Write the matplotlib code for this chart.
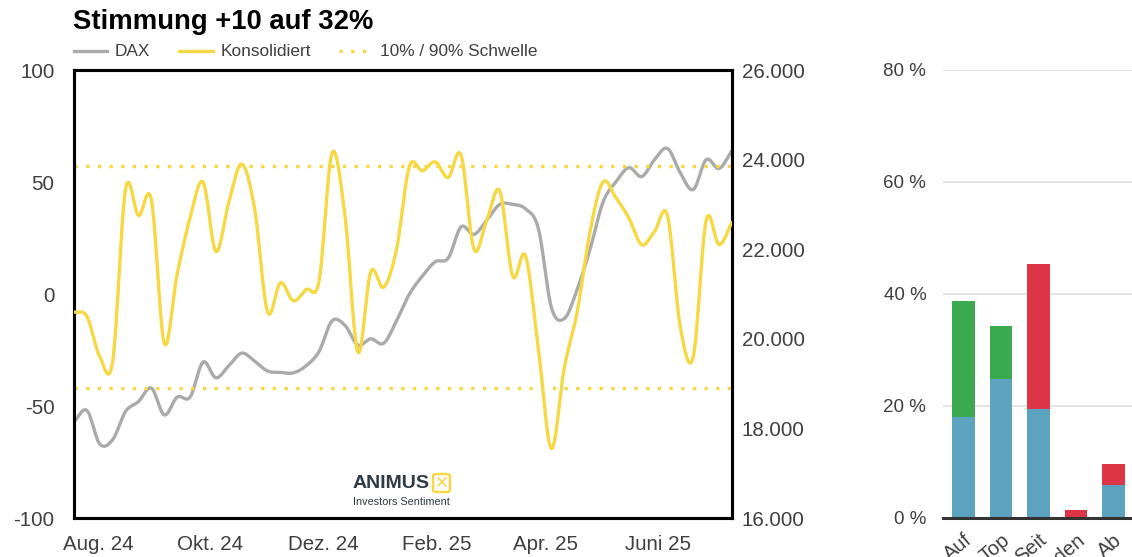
import numpy as np
import pandas as pd
import matplotlib
matplotlib.use("Agg")
import matplotlib.pyplot as plt
import matplotlib.dates as mdates
from matplotlib.patches import FancyBboxPatch

plt.rcParams['font.family'] = ['Liberation Sans', 'DejaVu Sans']
plt.rcParams['axes.unicode_minus'] = False

# weekly values
weeks = pd.date_range("2024-07-19", periods=52, freq="7D")

konsolidiert = [-8, -10, -28, -30, 47, 35, 42, -22, 9, 34,
                50, 19, 41, 58, 38, -8, 5, -3, 2, 6,
                63, 35, -26, 10, 3, 20, 57, 55, 59, 52,
                62, 20, 33, 46, 8, 17, -25, -69, -33, -8,
                28, 50, 43, 34, 22, 28, 35, -15, -28, 33,
                22, 32]

dax = [18150, 18400, 17650, 17750, 18380, 18600, 18900, 18300, 18700, 18700,
       19480, 19130, 19400, 19680, 19500, 19280, 19250, 19240, 19400, 19720,
       20400, 20300, 19860, 20000, 19900, 20400, 21000, 21400, 21720, 21800,
       22500, 22330, 22650, 23000, 23000, 22900, 22450, 20700, 20450, 21100,
       22000, 23050, 23500, 23820, 23620, 24000, 24250, 23700, 23330, 24000,
       23800, 24200]

upper_thr = 57
lower_thr = -42

month_ticks = ["2024-08-01", "2024-10-01", "2024-12-01", "2025-02-01", "2025-04-01", "2025-06-01"]
month_labels = ["Aug. 24", "Okt. 24", "Dez. 24", "Feb. 25", "Apr. 25", "Juni 25"]

bar_labels = ["Auf", "Top", "Seit", "Boden", "Ab"]
bar_blue = [18.0, 24.8, 19.5, 0.0, 5.9]
bar_green = [20.8, 9.5, 0.0, 0.0, 0.0]
bar_red = [0.0, 0.0, 25.9, 1.4, 3.7]

YELLOW = "#F5D844"
GRAY = "#AAAAAA"
BLUE = "#5BA3BF"
GREEN = "#3BAA4F"
RED = "#DC3545"
TXT = "#3F3F3F"
DOTS = (0, (1, 2.5))


def smooth(x, y, n=12):
    """catmull-rom through the weekly points, only for drawing"""
    x = np.asarray(x, float)
    y = np.asarray(y, float)
    px = np.concatenate([[2 * x[0] - x[1]], x, [2 * x[-1] - x[-2]]])
    py = np.concatenate([[2 * y[0] - y[1]], y, [2 * y[-1] - y[-2]]])
    xs, ys = [], []
    t = np.linspace(0, 1, n, endpoint=False)
    for i in range(1, len(px) - 2):
        for arr, out in ((px, xs), (py, ys)):
            p0, p1, p2, p3 = arr[i - 1], arr[i], arr[i + 1], arr[i + 2]
            out.append(0.5 * ((2 * p1) + (-p0 + p2) * t
                              + (2 * p0 - 5 * p1 + 4 * p2 - p3) * t ** 2
                              + (-p0 + 3 * p1 - 3 * p2 + p3) * t ** 3))
    xs = np.concatenate(xs + [[x[-1]]])
    ys = np.concatenate(ys + [[y[-1]]])
    return xs, ys


fig = plt.figure(figsize=(11.32, 5.57), dpi=100)

# main chart
ax = fig.add_axes([74 / 1132, 39 / 557, 658 / 1132, 448 / 557])
ax2 = ax.twinx()

xnum = mdates.date2num(weeks)
sx, sy = smooth(xnum, konsolidiert)
ax.plot(sx, sy, color=YELLOW, lw=2.4, zorder=3, solid_capstyle="round")
ax.axhline(upper_thr, color=YELLOW, lw=2.4, ls=DOTS, dash_capstyle="butt")
ax.axhline(lower_thr, color=YELLOW, lw=2.4, ls=DOTS, dash_capstyle="butt")

dx, dy = smooth(xnum, dax)
ax2.plot(dx, dy, color=GRAY, lw=2.4, zorder=2, solid_capstyle="round")

# yellow line above gray
ax.set_zorder(ax2.get_zorder() + 1)
ax.patch.set_visible(False)

ax.set_xlim(xnum[0], xnum[-1])
ax.set_ylim(-100, 100)
ax2.set_ylim(16000, 26000)
ax.set_yticks([-100, -50, 0, 50, 100])
ax2.set_yticks(np.arange(16000, 26001, 2000))
ax2.set_yticklabels([f"{v:,}".replace(",", ".") for v in range(16000, 26001, 2000)])
ax.set_xticks(mdates.date2num(pd.to_datetime(month_ticks)))
ax.set_xticklabels(month_labels)

for a in (ax, ax2):
    a.tick_params(length=0, labelsize=14.8, colors=TXT)
    for s in a.spines.values():
        s.set_linewidth(2.2)
        s.set_color("black")
ax.tick_params(axis="y", pad=14)
ax2.tick_params(axis="y", pad=7)
ax.tick_params(axis="x", pad=12)

# title and legend
fig.text(73 / 1132, 1 - 22 / 557, "Stimmung +10 auf 32%", fontsize=19.8, fontweight="bold",
         va="center", ha="left")
ly = 1 - 51 / 557
fig.add_artist(plt.Line2D([74 / 1132, 107 / 1132], [ly, ly], color=GRAY, lw=2.4))
fig.text(115 / 1132, ly, "DAX", fontsize=12.4, va="center", color=TXT)
fig.add_artist(plt.Line2D([179 / 1132, 213 / 1132], [ly, ly], color=YELLOW, lw=2.4))
fig.text(221 / 1132, ly, "Konsolidiert", fontsize=12.4, va="center", color=TXT)
fig.add_artist(plt.Line2D([339 / 1132, 374 / 1132], [ly, ly], color=YELLOW, lw=2.4, ls=DOTS))
fig.text(380 / 1132, ly, "10% / 90% Schwelle", fontsize=12.4, va="center", color=TXT)

# logo
fig.text(353 / 1132, 1 - 483 / 557, "ANIMUS", fontsize=14, fontweight="bold",
         color="#2E3B45", va="center", ha="left")
fig.text(353 / 1132, 1 - 502 / 557, "Investors Sentiment", fontsize=7.8, color="#2E3B45",
         va="center", ha="left")
box = FancyBboxPatch((433 / 1132, 1 - 492 / 557), 17 / 1132, 18 / 557,
                     boxstyle="round,pad=0,rounding_size=0.004", transform=fig.transFigure,
                     fill=False, ec=YELLOW, lw=1.8)
fig.add_artist(box)
fig.text(442 / 1132, 1 - 482 / 557, "\u2715", fontsize=12, color=YELLOW, va="center",
         ha="center", fontweight="bold", family="DejaVu Sans")

# bar chart
bx = fig.add_axes([943 / 1132, 39 / 557, 189 / 1132, 448 / 557])
pos = np.arange(len(bar_labels))
w = 0.61
blue = np.array(bar_blue)
green = np.array(bar_green)
red = np.array(bar_red)
bx.bar(pos, blue, w, color=BLUE, zorder=3)
bx.bar(pos, green, w, bottom=blue, color=GREEN, zorder=3)
bx.bar(pos, red, w, bottom=blue + green, color=RED, zorder=3)
bx.set_xlim(-0.547, -0.547 + 189 / 37.5)
bx.set_ylim(0, 80)
bx.set_yticks([0, 20, 40, 60, 80])
bx.set_yticklabels([f"{v} %" for v in [0, 20, 40, 60, 80]])
bx.yaxis.grid(True, color="#E2E2E2", lw=1.3, zorder=0)
bx.set_xticks(pos)
bx.set_xticklabels(bar_labels, rotation=40, ha="right", rotation_mode="anchor")
bx.tick_params(length=0, labelsize=13.5, colors=TXT)
bx.tick_params(axis="x", labelsize=14.5, pad=9)
bx.tick_params(axis="y", pad=12)
for s in ["left", "right", "top"]:
    bx.spines[s].set_visible(False)
bx.spines["bottom"].set_color("#333333")
bx.spines["bottom"].set_linewidth(2.2)
bx.spines["bottom"].set_zorder(4)

fig.savefig("out.png", dpi=100)
